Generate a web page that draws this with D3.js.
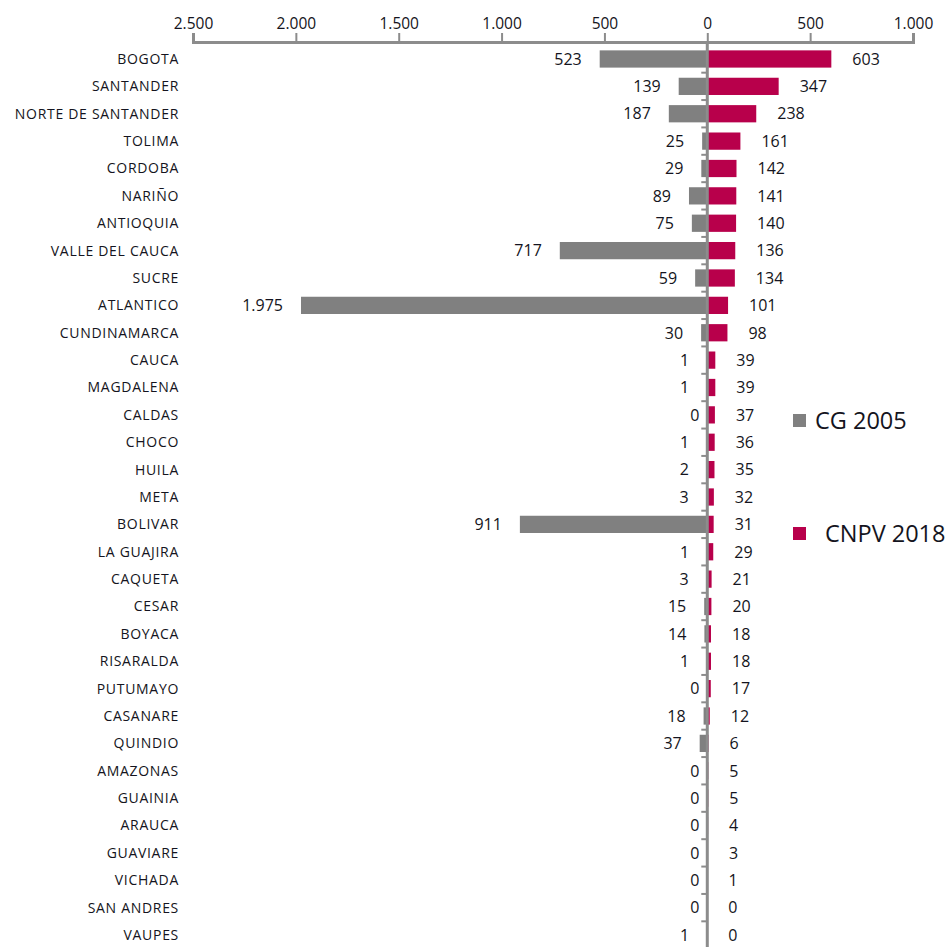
<!DOCTYPE html>
<html><head><meta charset="utf-8">
<script src="https://cdn.jsdelivr.net/npm/d3@7"></script>
<style>body{margin:0;background:#fff}svg{display:block}</style>
</head><body>
<script>
const categories = ["BOGOTA","SANTANDER","NORTE DE SANTANDER","TOLIMA","CORDOBA","NARIÑO","ANTIOQUIA","VALLE DEL CAUCA","SUCRE","ATLANTICO","CUNDINAMARCA","CAUCA","MAGDALENA","CALDAS","CHOCO","HUILA","META","BOLIVAR","LA GUAJIRA","CAQUETA","CESAR","BOYACA","RISARALDA","PUTUMAYO","CASANARE","QUINDIO","AMAZONAS","GUAINIA","ARAUCA","GUAVIARE","VICHADA","SAN ANDRES","VAUPES"];
const cg2005 = [523,139,187,25,29,89,75,717,59,1975,30,1,1,0,1,2,3,911,1,3,15,14,1,0,18,37,0,0,0,0,0,0,1];
const cnpv2018 = [603,347,238,161,142,141,140,136,134,101,98,39,39,37,36,35,32,31,29,21,20,18,18,17,12,6,5,5,4,3,1,0,0];
const tickValues = [-2500,-2000,-1500,-1000,-500,0,500,1000];
const seriesNames = ["CG 2005","CNPV 2018"];
const colors = ["#808080","#b8004b"];

const W=952,H=947;
const svg=d3.select("body").append("svg").attr("width",W).attr("height",H);
const x=d3.scaleLinear().domain([-2500,1000]).range([193,913]);
const y=d3.scaleBand().domain(categories).range([45.3,948.7]).paddingInner(0.37).paddingOuter(0.185);
const fmt=v=>d3.format(",")(Math.abs(v)).replace(/,/g,".");
const font="'Open Sans', sans-serif";
const txt="#141420";

// bars
svg.append("g").selectAll("rect").data(categories).join("rect")
  .attr("x",(d,i)=>x(-cg2005[i])).attr("y",d=>y(d))
  .attr("width",(d,i)=>x(0)-x(-cg2005[i])).attr("height",y.bandwidth())
  .attr("fill",colors[0]);
svg.append("g").selectAll("rect").data(categories).join("rect")
  .attr("x",x(0)).attr("y",d=>y(d))
  .attr("width",(d,i)=>x(cnpv2018[i])-x(0)).attr("height",y.bandwidth())
  .attr("fill",colors[1]);

// top axis
const ax=svg.append("g").attr("transform","translate(0,42)")
  .call(d3.axisTop(x).tickValues(tickValues).tickFormat(fmt).tickSize(9).tickSizeOuter(9));
ax.select(".domain").attr("stroke","#8c8c8c").attr("stroke-width",3);
ax.selectAll(".tick line").attr("stroke","#8c8c8c").attr("stroke-width",2);
ax.selectAll(".tick text").attr("font-family",font).attr("font-size",15.5).attr("fill",txt).attr("dy","-0.05em");

// vertical axis
const vAxis=svg.append("g");
vAxis.append("line").attr("x1",x(0)).attr("x2",x(0)).attr("y1",42).attr("y2",H)
  .attr("stroke","#8c8c8c").attr("stroke-width",3);
vAxis.selectAll("line.t").data(categories.slice(1)).join("line").attr("class","t")
  .attr("x1",x(0)-6).attr("x2",x(0)).attr("y1",d=>y(d)-y.step()*y.paddingInner()/2).attr("y2",d=>y(d)-y.step()*y.paddingInner()/2)
  .attr("stroke","#8c8c8c").attr("stroke-width",2);

// category labels
svg.append("g").selectAll("text").data(categories).join("text")
  .attr("x",179).attr("y",d=>y(d)+y.bandwidth()/2).attr("dy","0.35em")
  .attr("text-anchor","end").attr("font-family",font).attr("font-size",14).attr("font-weight",500)
  .attr("letter-spacing","0.7").attr("fill",txt).text(d=>d);

// value labels
svg.append("g").selectAll("text").data(categories).join("text")
  .attr("x",(d,i)=>x(-cg2005[i])-(cg2005[i]===0?8:18)).attr("y",d=>y(d)+y.bandwidth()/2).attr("dy","0.36em")
  .attr("text-anchor","end").attr("font-family",font).attr("font-size",16).attr("fill",txt)
  .text((d,i)=>fmt(cg2005[i]));
svg.append("g").selectAll("text").data(categories).join("text")
  .attr("x",(d,i)=>x(cnpv2018[i])+21).attr("y",d=>y(d)+y.bandwidth()/2).attr("dy","0.36em")
  .attr("text-anchor","start").attr("font-family",font).attr("font-size",16).attr("fill",txt)
  .text((d,i)=>fmt(cnpv2018[i]));

// legend
const leg=[{name:seriesNames[0],c:colors[0],y:421,tx:815},{name:seriesNames[1],c:colors[1],y:534,tx:825}];
const lg=svg.append("g").selectAll("g").data(leg).join("g");
lg.append("rect").attr("x",793).attr("y",d=>d.y-7).attr("width",13).attr("height",13).attr("fill",d=>d.c);
lg.append("text").attr("x",d=>d.tx).attr("y",d=>d.y).attr("dy","0.35em")
  .attr("font-family",font).attr("font-size",23.5).attr("fill",txt).text(d=>d.name);
</script>
</body></html>
